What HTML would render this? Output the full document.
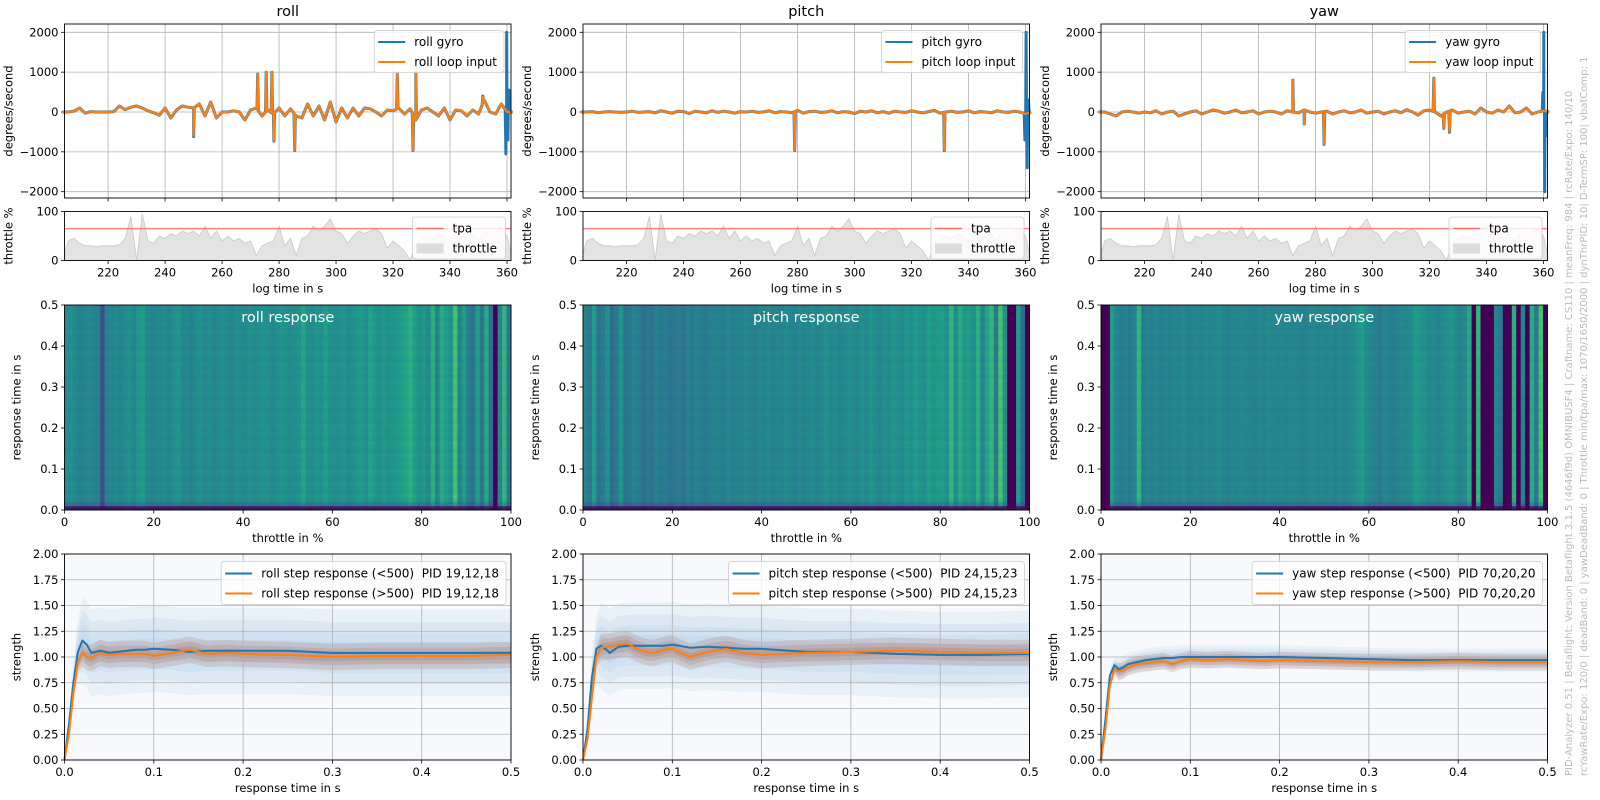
<!DOCTYPE html>
<html><head><meta charset="utf-8"><title>PID Analyzer</title>
<style>
html,body{margin:0;padding:0;background:#fff;}
svg{display:block;font-family:"DejaVu Sans","Liberation Sans",sans-serif;}
text{fill:#000;}
</style></head>
<body>
<svg id="chart" width="1600" height="800" viewBox="0 0 1600 800" xmlns="http://www.w3.org/2000/svg">
<text transform="translate(1572,776) rotate(-90)" font-size="10" style="fill:#bbb">PID-Analyzer 0.51 | Betaflight: Version Betaflight 3.1.5 (4646f9d) OMNIBUSF4 | Craftname: CS110 | meanFreq: 984 | rcRate/Expo: 140/10</text>
<text transform="translate(1587,776) rotate(-90)" font-size="10" style="fill:#bbb">rcYawRate/Expo: 120/0 | deadBand: 0 | yawDeadBand: 0 | Throttle min/tpa/max: 1070/1650/2000 | dynThrPID: 10| D-TermSP: 100| vbatComp: 1</text>
</svg>
<script>
// ---------- DATA ----------
const axisNames = ['roll','pitch','yaw'];
const gyroLegend = [['roll gyro','roll loop input'],['pitch gyro','pitch loop input'],['yaw gyro','yaw loop input']];
const heatTitles = ['roll response','pitch response','yaw response'];
const stepLegend = [['roll step response (<500)  PID 19,12,18','roll step response (>500)  PID 19,12,18'],
 ['pitch step response (<500)  PID 24,15,23','pitch step response (>500)  PID 24,15,23'],
 ['yaw step response (<500)  PID 70,20,20','yaw step response (>500)  PID 70,20,20']];

const gyroTicks = [2000,1000,0,-1000,-2000];
const gyroTickLabels = ['2000','1000','0','\u22121000','\u22122000'];
const timeTicks = [220,240,260,280,300,320,340,360];
const thrTicks = [0,100];
const heatXTicks = [0,20,40,60,80,100];
const heatYTicks = [0,0.1,0.2,0.3,0.4,0.5];
const heatYLabels = ['0.0','0.1','0.2','0.3','0.4','0.5'];
const stepXTicks = [0,0.1,0.2,0.3,0.4,0.5];
const stepXLabels = ['0.0','0.1','0.2','0.3','0.4','0.5'];
const stepYTicks = [0,0.25,0.5,0.75,1,1.25,1.5,1.75,2];
const stepYLabels = ['0.00','0.25','0.50','0.75','1.00','1.25','1.50','1.75','2.00'];

// time samples every 2 s from 204 to 362
const baseTimes = [204,206,208,210,212,214,216,218,220,222,224,226,228,230,232,234,236,238,240,242,244,246,248,250,252,254,256,258,260,262,264,266,268,270,272,274,276,278,280,282,284,286,288,290,292,294,296,298,300,302,304,306,308,310,312,314,316,318,320,322,324,326,328,330,332,334,336,338,340,342,344,346,348,350,352,354,356,358,360,362];
const throttle = [0,40,45,35,30,30,28,30,30,30,32,45,90,0,95,40,35,50,45,55,50,60,55,60,50,70,45,60,40,50,40,45,35,40,10,30,35,40,70,30,45,10,45,50,70,60,70,85,60,55,35,50,60,55,60,65,55,25,40,30,20,0,35,45,50,45,55,50,40,55,45,50,55,40,60,55,60,65,50,0];
const tpaLevel = 65;

const rollBase = [0,0,20,100,-30,10,0,0,0,10,150,60,120,150,100,30,-20,-80,100,-150,50,150,120,100,200,-100,250,-150,0,0,30,0,-200,50,100,-100,50,-50,100,-100,80,-100,-150,200,-100,150,-200,250,-250,100,-150,100,-100,100,80,0,-100,50,30,100,-50,80,-200,50,100,0,-100,100,-200,50,30,-100,50,-50,300,0,-50,200,0,0];
const pitchBase = [0,0,10,-20,0,10,0,-10,0,20,-10,0,10,-20,30,0,-30,20,10,-40,20,0,-20,30,-10,20,0,-30,10,0,20,-10,0,30,-20,10,0,-20,40,-30,10,20,-10,0,30,-20,10,0,-40,20,0,30,-20,10,-30,20,0,-10,30,0,-20,10,40,-30,0,20,-10,0,30,-20,10,0,-20,30,0,-10,20,0,-50,0];
const yawBase = [0,0,-50,-100,0,20,0,-30,0,-20,30,-50,0,20,-100,-50,0,30,-50,0,50,20,-30,0,50,-20,0,30,-50,0,20,0,-50,30,0,-20,50,0,-30,0,20,-50,0,30,-20,0,50,-30,0,20,-50,0,30,-20,60,0,-80,30,50,0,-100,0,50,-30,0,20,-50,100,0,-30,50,0,150,-20,0,100,-50,0,30,0];

const rollInputSpikes = [[250,-600],[272.5,950],[275.5,1000],[277.5,1000],[278.2,-720],[285.5,-950],[321.5,1000],[327,-950],[328,1000],[351.5,380]];
const rollGyroSpikes = [[250,-620],[272.5,950],[275.5,1000],[277.5,1000],[278.2,-730],[285.5,-960],[321.5,980],[327,-960],[328,990],[351.5,400],[359.6,-1050],[359.9,2000],[360.3,-700],[360.7,550]];
const pitchInputSpikes = [[279,-950],[331.5,-950]];
const pitchGyroSpikes = [[279,-960],[331.5,-960],[359.8,-700],[360.2,2000],[360.6,-1400],[361,300]];
const yawInputSpikes = [[272,800],[276,-300],[283,-800],[321.5,850],[325,-400],[327,-500]];
const yawGyroSpikes = [[272,800],[276,-300],[283,-810],[321.5,850],[325,-410],[327,-510],[359.8,500],[360.1,2000],[360.4,-2000],[360.8,-600]];

const rollHeat = [.48,.50,.46,.44,.45,.47,.45,.44,.25,.45,.46,.47,.45,.48,.50,.46,.52,.55,.47,.45,.46,.47,.48,.45,.50,.52,.46,.47,.45,.48,.50,.47,.49,.46,.48,.50,.47,.46,.49,.48,.47,.50,.48,.49,.51,.50,.47,.49,.52,.50,.48,.49,.51,.58,.50,.49,.52,.50,.56,.50,.49,.50,.52,.48,.50,.53,.55,.50,.57,.52,.50,.53,.51,.52,.54,.55,.58,.62,.55,.50,.52,.48,.62,.45,.60,.55,.50,.70,.45,.55,.42,.38,.55,.40,.60,.35,0,.45,.65,.40];
const pitchHeat = [.45,.40,.55,.38,.42,.50,.35,.40,.52,.38,.40,.45,.42,.36,.40,.38,.44,.40,.42,.38,.40,.42,.38,.44,.40,.45,.42,.40,.43,.45,.44,.42,.46,.43,.45,.44,.47,.45,.43,.46,.45,.47,.44,.46,.45,.48,.46,.44,.47,.45,.46,.48,.45,.47,.50,.46,.48,.45,.47,.49,.48,.46,.50,.47,.52,.48,.46,.50,.48,.52,.50,.48,.53,.50,.55,.52,.50,.56,.52,.54,.55,.50,.65,.48,.60,.52,.55,.50,.62,.45,.58,.65,.40,.70,.50,0,0,.55,.35,0];
const yawHeat = [0,0,.55,.45,.42,.44,.40,.45,.65,.42,.45,.44,.46,.43,.45,.44,.46,.45,.47,.44,.45,.46,.44,.47,.45,.46,.48,.45,.44,.46,.45,.47,.46,.45,.44,.46,.45,.47,.46,.45,.46,.45,.47,.46,.45,.44,.46,.47,.45,.46,.45,.46,.44,.47,.45,.46,.48,.52,.55,.48,.45,.44,.40,.46,.44,.42,.45,.47,.46,.48,.55,.52,.50,.46,.48,.45,.47,.50,.52,.48,.45,.48,.60,0,.65,0,0,0,.45,.40,0,0,.62,0,.45,0,.60,.40,.70,0];
const heatRowFactor = [0.12,0.8,0.97,1.03,0.98,1,1.02,0.97,1,1.03,0.98,1.01,0.99,1.02,0.97,1,1.03,0.98,1.01,0.99,1.02,0.98,1,1.01,0.97,1.02,1,0.98,1.03,0.99,1,1.02,0.97,1.01,0.99,1.02,0.98,1,1.03,0.97,1.01,1,0.98,1.02,0.99,1.01,0.98,1.02,1,0.99];

const stepT = [0,0.005,0.01,0.015,0.02,0.025,0.03,0.04,0.05,0.06,0.07,0.08,0.09,0.1,0.12,0.14,0.16,0.18,0.2,0.25,0.3,0.35,0.4,0.45,0.5];
const rollStepLow = [0,0.35,0.75,1.05,1.16,1.12,1.04,1.06,1.04,1.05,1.06,1.07,1.07,1.08,1.07,1.05,1.06,1.06,1.06,1.06,1.04,1.04,1.04,1.04,1.04];
const rollStepHigh = [0,0.25,0.65,0.95,1.04,1.0,0.99,1.04,1.02,1.03,1.03,1.03,1.03,1.01,1.04,1.07,1.03,1.04,1.03,1.02,1.0,1.01,1.01,1.01,1.02];
const pitchStepLow = [0,0.3,0.8,1.08,1.11,1.08,1.04,1.1,1.11,1.11,1.11,1.11,1.11,1.12,1.09,1.1,1.09,1.08,1.08,1.05,1.05,1.03,1.02,1.02,1.03];
const pitchStepHigh = [0,0.2,0.6,1.0,1.09,1.1,1.1,1.12,1.13,1.08,1.05,1.04,1.07,1.08,1.0,1.05,1.08,1.04,1.02,1.04,1.05,1.06,1.05,1.04,1.04];
const yawStepLow = [0,0.4,0.82,0.92,0.88,0.9,0.93,0.95,0.97,0.98,0.99,0.99,1.0,1.0,1.0,1.0,1.0,1.0,1.0,0.99,0.98,0.97,0.97,0.97,0.97];
const yawStepHigh = [0,0.3,0.72,0.88,0.86,0.87,0.9,0.93,0.94,0.95,0.96,0.93,0.96,0.98,0.97,0.98,0.97,0.96,0.97,0.96,0.95,0.95,0.96,0.95,0.95];
const stepLowSpread = [0.3,0.3,0.08];
const stepHighSpread = [0.08,0.08,0.05];

const viridisStops = ['#440154','#482878','#3e4989','#31688e','#26828e','#1f9e89','#35b779','#6ece58','#b5de2b','#fde725'];

// ---------- LAYOUT ----------
const SVGNS = 'http://www.w3.org/2000/svg';
const svg = document.getElementById('chart');
const colX = [64.5, 583, 1101];
const PW = 446.5;
const G = {top:24, bot:198, zero:112, k:0.03985};
const TH = {top:211.5, bot:260.5};
const HM = {top:305, bot:510};
const ST = {top:554, bot:760};
const T0 = 204.7, T1 = 361.4;
const BLUE = '#1f77b4', ORANGE = '#ff7f0e';

function mk(tag, attrs, parent){
  const e = document.createElementNS(SVGNS, tag);
  for (const k in attrs) e.setAttribute(k, attrs[k]);
  (parent||svg).appendChild(e);
  return e;
}
function viridis(v){
  v = Math.max(0, Math.min(1, v));
  const p = v*(viridisStops.length-1), i = Math.min(Math.floor(p), viridisStops.length-2), f = p-i;
  const a = viridisStops[i], b = viridisStops[i+1];
  const c = [1,3,5].map(o=>Math.round(parseInt(a.substr(o,2),16)*(1-f)+parseInt(b.substr(o,2),16)*f));
  return 'rgb('+c.join(',')+')';
}
function label(parent, x, y, txt, opts){
  const t = mk('text', Object.assign({x:x, y:y, 'font-size':11.5}, opts||{}), parent);
  t.textContent = txt;
  return t;
}

const baseSets = [rollBase, pitchBase, yawBase];
const inSpikes = [rollInputSpikes, pitchInputSpikes, yawInputSpikes];
const gySpikes = [rollGyroSpikes, pitchGyroSpikes, yawGyroSpikes];
const heatSets = [rollHeat, pitchHeat, yawHeat];
const stepLowSets = [rollStepLow, pitchStepLow, yawStepLow];
const stepHighSets = [rollStepHigh, pitchStepHigh, yawStepHigh];

function buildSeries(base, spikes){
  const pts = baseTimes.map((t,i)=>[t, base[i]]);
  function baseAt(t){
    for (let i=0;i<baseTimes.length-1;i++){
      if (t>=baseTimes[i] && t<=baseTimes[i+1]){
        const f=(t-baseTimes[i])/(baseTimes[i+1]-baseTimes[i]);
        return base[i]*(1-f)+base[i+1]*f;
      }
    }
    return 0;
  }
  spikes.forEach(s=>{
    pts.push([s[0]-0.25, baseAt(s[0]-0.25)]);
    pts.push([s[0], s[1]]);
    pts.push([s[0]+0.25, baseAt(s[0]+0.25)]);
  });
  pts.sort((a,b)=>a[0]-b[0]);
  return pts;
}

for (let a=0; a<3; a++){
  const x0 = colX[a], x1 = x0+PW;
  const tx = t => x0 + (t-T0)/(T1-T0)*PW;
  const gy = v => G.zero - v*G.k;
  const ty = v => TH.bot - v/100*(TH.bot-TH.top);
  const hx = v => x0 + v/100*PW;
  const hy = v => HM.bot - v/0.5*(HM.bot-HM.top);
  const sx = v => x0 + v/0.5*PW;
  const sy = v => ST.bot - v/2*(ST.bot-ST.top);

  const col = mk('g', {});
  
  

  const title = label(col, x0+PW/2, 16, axisNames[a], {'font-size':14.5, 'text-anchor':'middle'});
  
  

  // ===== GYRO PANEL =====
  const gp = mk('g', {}, col);
  
  
  gyroTicks.forEach((v,i)=>{
    const gl = mk('line', {x1:x0, x2:x1, y1:gy(v), y2:gy(v), stroke:'#b0b0b0', 'stroke-width':0.8}, gp);
    
    
    mk('line', {x1:x0-3.5, x2:x0, y1:gy(v), y2:gy(v), stroke:'#000', 'stroke-width':0.8}, gp);
    const tl = label(gp, x0-6, gy(v)+4, gyroTickLabels[i], {'text-anchor':'end'});
    
    
  });
  timeTicks.forEach(t=>{
    const gl = mk('line', {x1:tx(t), x2:tx(t), y1:G.top, y2:G.bot, stroke:'#b0b0b0', 'stroke-width':0.8}, gp);
    
    
    mk('line', {x1:tx(t), x2:tx(t), y1:G.bot, y2:G.bot+3.5, stroke:'#000', 'stroke-width':0.8}, gp);
  });
  const gyroPts = buildSeries(baseSets[a], gySpikes[a]);
  const gLine = mk('polyline', {points: gyroPts.map(p=>tx(p[0]).toFixed(1)+','+gy(p[1]).toFixed(1)).join(' '), fill:'none', stroke:BLUE, 'stroke-width':3, 'stroke-linejoin':'round'}, gp);
  
  
  const inPts = buildSeries(baseSets[a], inSpikes[a]);
  const iLine = mk('polyline', {points: inPts.map(p=>tx(p[0]).toFixed(1)+','+gy(p[1]).toFixed(1)).join(' '), fill:'none', stroke:ORANGE, 'stroke-width':2.2, 'stroke-linejoin':'round'}, gp);
  
  
  const gFrame = mk('rect', {x:x0, y:G.top, width:PW, height:G.bot-G.top, fill:'none', stroke:'#000', 'stroke-width':0.9}, gp);
  
  
  const gyl = label(gp, 0, 0, 'degrees/second', {transform:'translate('+(x0-52)+','+((G.top+G.bot)/2)+') rotate(-90)', 'text-anchor':'middle'});
  
  
  const gLeg = mk('g', {}, gp);
  
  
  const gBox = mk('rect', {y:G.top+6.5, height:42, rx:3, fill:'#fff', 'fill-opacity':0.8, stroke:'#ccc', 'stroke-width':0.8}, gLeg);
  const gt1 = label(gLeg, 0, G.top+22, gyroLegend[a][0], {'font-size':12});
  
  
  const gt2 = label(gLeg, 0, G.top+42, gyroLegend[a][1], {'font-size':12});
  
  
  const gw = Math.max(gt1.getComputedTextLength(), gt2.getComputedTextLength());
  const gbx = x1 - 7 - (gw + 47);
  gBox.setAttribute('x', gbx); gBox.setAttribute('width', gw+47);
  gt1.setAttribute('x', gbx+40); gt2.setAttribute('x', gbx+40);
  mk('line', {x1:gbx+4, x2:gbx+31, y1:G.top+18, y2:G.top+18, stroke:BLUE, 'stroke-width':2}, gLeg);
  mk('line', {x1:gbx+4, x2:gbx+31, y1:G.top+38, y2:G.top+38, stroke:ORANGE, 'stroke-width':2}, gLeg);

  // ===== THROTTLE PANEL =====
  const tp = mk('g', {}, col);
  
  
  const thrPts = baseTimes.map((t,i)=>tx(t).toFixed(1)+','+ty(throttle[i]).toFixed(1));
  const thrArea = mk('polygon', {points: tx(baseTimes[0])+','+TH.bot+' '+thrPts.join(' ')+' '+tx(baseTimes[baseTimes.length-1])+','+TH.bot, fill:'#dcdcdc', 'fill-opacity':0.8, stroke:'#c8c8c8', 'stroke-width':0.8}, tp);
  
  
  const tpa = mk('line', {x1:x0, x2:x1, y1:ty(tpaLevel), y2:ty(tpaLevel), stroke:'#ff6b6b', 'stroke-opacity':0.85, 'stroke-width':1.5}, tp);
  
  
  mk('rect', {x:x0-30, y:TH.top-1, width:29.5, height:TH.bot-TH.top+2, fill:'#fff'}, tp);
  mk('rect', {x:x1+0.5, y:TH.top-1, width:6, height:TH.bot-TH.top+2, fill:'#fff'}, tp);
  thrTicks.forEach(v=>{
    mk('line', {x1:x0-3.5, x2:x0, y1:ty(v), y2:ty(v), stroke:'#000', 'stroke-width':0.8}, tp);
    const tl = label(tp, x0-6, ty(v)+4, String(v), {'text-anchor':'end'});
    
    
  });
  timeTicks.forEach(t=>{
    mk('line', {x1:tx(t), x2:tx(t), y1:TH.bot, y2:TH.bot+3.5, stroke:'#000', 'stroke-width':0.8}, tp);
    const tl = label(tp, tx(t), TH.bot+16, String(t), {'text-anchor':'middle'});
    
    
  });
  const tFrame = mk('rect', {x:x0, y:TH.top, width:PW, height:TH.bot-TH.top, fill:'none', stroke:'#000', 'stroke-width':0.9}, tp);
  
  
  const tyl = label(tp, 0, 0, 'throttle %', {transform:'translate('+(x0-52)+','+((TH.top+TH.bot)/2)+') rotate(-90)', 'text-anchor':'middle'});
  
  
  const txl = label(tp, x0+PW/2, TH.bot+32, 'log time in s', {'text-anchor':'middle'});
  
  
  const tLeg = mk('g', {}, tp);
  
  
  const tbx = x1-5.5-93;
  mk('rect', {x:tbx, y:TH.top+5.5, width:93, height:42, rx:3, fill:'#fff', 'fill-opacity':0.8, stroke:'#ccc', 'stroke-width':0.8}, tLeg);
  mk('line', {x1:tbx+4, x2:tbx+31, y1:TH.top+17, y2:TH.top+17, stroke:'#ff6b6b', 'stroke-width':1.5}, tLeg);
  mk('rect', {x:tbx+4, y:TH.top+32, width:27, height:10, fill:'#dcdcdc'}, tLeg);
  const tl1 = label(tLeg, tbx+40, TH.top+21, 'tpa', {'font-size':12});
  
  
  const tl2 = label(tLeg, tbx+40, TH.top+41, 'throttle', {'font-size':12});
  
  

  // ===== HEATMAP =====
  const hp = mk('g', {}, col);
  
  
  const heat = heatSets[a];
  const nR = heatRowFactor.length;
  for (let c=0;c<heat.length;c++){
    for (let r=0;r<nR;r++){
      const s0 = r*0.5/nR, s1 = (r+1)*0.5/nR;
      const cell = mk('rect', {x:hx(c).toFixed(2), y:hy(s1).toFixed(2), width:(hx(c+1)-hx(c)+0.4).toFixed(2), height:(hy(s0)-hy(s1)+0.4).toFixed(2), fill:viridis(heat[c]*heatRowFactor[(r+c*7)%nR===0&&r!==0?r:r])}, hp);
      
      
    }
  }
  const hFrame = mk('rect', {x:x0, y:HM.top, width:PW, height:HM.bot-HM.top, fill:'none', stroke:'#000', 'stroke-width':0.9}, hp);
  
  
  const ht = label(hp, x0+PW/2, HM.top+17, heatTitles[a], {'font-size':14.5, 'text-anchor':'middle', style:'fill:#fff'});
  
  
  heatXTicks.forEach(v=>{
    mk('line', {x1:hx(v), x2:hx(v), y1:HM.bot, y2:HM.bot+3.5, stroke:'#000', 'stroke-width':0.8}, hp);
    const tl = label(hp, hx(v), HM.bot+16, String(v), {'text-anchor':'middle'});
    
    
  });
  heatYTicks.forEach((v,i)=>{
    mk('line', {x1:x0-3.5, x2:x0, y1:hy(v), y2:hy(v), stroke:'#000', 'stroke-width':0.8}, hp);
    const tl = label(hp, x0-6, hy(v)+4, heatYLabels[i], {'text-anchor':'end'});
    
    
  });
  const hyl = label(hp, 0, 0, 'response time in s', {transform:'translate('+(x0-44)+','+((HM.top+HM.bot)/2)+') rotate(-90)', 'text-anchor':'middle'});
  
  
  const hxl = label(hp, x0+PW/2, HM.bot+32, 'throttle in %', {'text-anchor':'middle'});
  
  

  // ===== STEP RESPONSE =====
  const sp = mk('g', {}, col);
  
  
  mk('rect', {x:x0, y:ST.top, width:PW, height:ST.bot-ST.top, fill:'#f7f9fc'}, sp);
  const low = stepLowSets[a], high = stepHighSets[a];
  function band(vals, spread, color, op){
    const up = stepT.map((t,i)=>sx(t).toFixed(1)+','+sy(vals[i]+spread*Math.min(1,t/0.02)).toFixed(1));
    const dn = stepT.map((t,i)=>sx(t).toFixed(1)+','+sy(vals[i]-spread*Math.min(1,t/0.02)).toFixed(1)).reverse();
    const b = mk('polygon', {points: up.concat(dn).join(' '), fill:color, 'fill-opacity':op}, sp);
    
    
  }
  [1.4,1.0,0.65,0.35].forEach(f=>band(low, stepLowSpread[a]*f, '#7aaad8', 0.11));
  [1.6,1.0,0.5].forEach(f=>band(high, stepHighSpread[a]*f, '#a0482a', 0.16));
  stepXTicks.forEach((v,i)=>{
    const gl = mk('line', {x1:sx(v), x2:sx(v), y1:ST.top, y2:ST.bot, stroke:'#b0b0b0', 'stroke-width':0.8}, sp);
    
    
    mk('line', {x1:sx(v), x2:sx(v), y1:ST.bot, y2:ST.bot+3.5, stroke:'#000', 'stroke-width':0.8}, sp);
    const tl = label(sp, sx(v), ST.bot+16, stepXLabels[i], {'text-anchor':'middle'});
    
    
  });
  stepYTicks.forEach((v,i)=>{
    const gl = mk('line', {x1:x0, x2:x1, y1:sy(v), y2:sy(v), stroke:'#b0b0b0', 'stroke-width':0.8}, sp);
    
    
    mk('line', {x1:x0-3.5, x2:x0, y1:sy(v), y2:sy(v), stroke:'#000', 'stroke-width':0.8}, sp);
    const tl = label(sp, x0-6, sy(v)+4, stepYLabels[i], {'text-anchor':'end'});
    
    
  });
  const lowLine = mk('polyline', {points: stepT.map((t,i)=>sx(t).toFixed(1)+','+sy(low[i]).toFixed(1)).join(' '), fill:'none', stroke:BLUE, 'stroke-width':2, 'stroke-linejoin':'round'}, sp);
  
  
  const highLine = mk('polyline', {points: stepT.map((t,i)=>sx(t).toFixed(1)+','+sy(high[i]).toFixed(1)).join(' '), fill:'none', stroke:ORANGE, 'stroke-width':2, 'stroke-linejoin':'round'}, sp);
  
  
  const sFrame = mk('rect', {x:x0, y:ST.top, width:PW, height:ST.bot-ST.top, fill:'none', stroke:'#000', 'stroke-width':0.9}, sp);
  
  
  const syl = label(sp, 0, 0, 'strength', {transform:'translate('+(x0-44)+','+((ST.top+ST.bot)/2)+') rotate(-90)', 'text-anchor':'middle'});
  
  
  const sxl = label(sp, x0+PW/2, ST.bot+32, 'response time in s', {'text-anchor':'middle'});
  
  
  const sLeg = mk('g', {}, sp);
  
  
  const sBox = mk('rect', {y:ST.top+7.5, height:43, rx:3, fill:'#fff', 'fill-opacity':0.8, stroke:'#ccc', 'stroke-width':0.8}, sLeg);
  const st1 = label(sLeg, 0, ST.top+23.5, stepLegend[a][0], {'font-size':12});
  
  
  const st2 = label(sLeg, 0, ST.top+43.5, stepLegend[a][1], {'font-size':12});
  
  
  st1.style.whiteSpace='pre'; st2.style.whiteSpace='pre';
  const sw = Math.max(st1.getComputedTextLength(), st2.getComputedTextLength());
  const sbx = x1 - 5 - (sw + 47);
  sBox.setAttribute('x', sbx); sBox.setAttribute('width', sw+47);
  st1.setAttribute('x', sbx+40); st2.setAttribute('x', sbx+40);
  mk('line', {x1:sbx+4, x2:sbx+31, y1:ST.top+19.5, y2:ST.top+19.5, stroke:BLUE, 'stroke-width':2}, sLeg);
  mk('line', {x1:sbx+4, x2:sbx+31, y1:ST.top+39.5, y2:ST.top+39.5, stroke:ORANGE, 'stroke-width':2}, sLeg);
}
</script>
</body></html>
